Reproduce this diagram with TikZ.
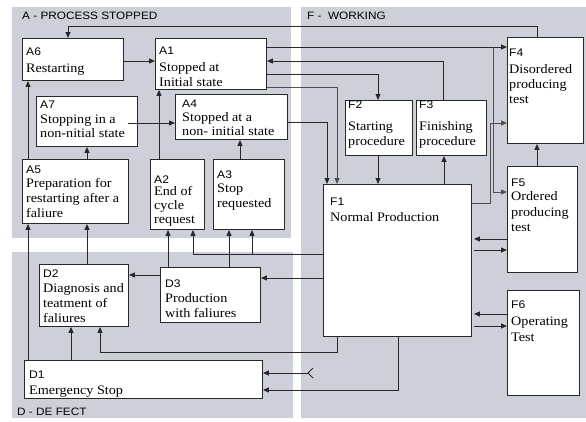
\documentclass[tikz,border=0pt]{standalone}
\usepackage{fontspec}
\setmainfont{Liberation Serif}[FakeStretch=1.09]
\newfontfamily\sansid{Liberation Sans}[FakeStretch=1.1]
\usetikzlibrary{arrows.meta}

\definecolor{zone}{RGB}{205,208,216}
\definecolor{ink}{RGB}{40,40,40}
\definecolor{wire}{RGB}{40,40,40}
\definecolor{wiregray}{RGB}{80,80,80}

% stacked text block: first line is the state code, the others use given baseline gaps
\newcommand\boxtxt[1]{\vtop{\lineskiplimit=-100pt\lineskip=0pt\relax #1}}
\newcommand\idl[1]{\hbox{\sansid\fontsize{11}{13}\selectfont #1}}
\newcommand\tline[2]{\baselineskip=#1pt\hbox{#2}}

\tikzset{
  box/.style={draw=ink, line width=0.9pt, fill=white, rectangle, inner sep=0pt, anchor=north west},
  txt/.style={anchor=base west, inner sep=0pt, font=\fontsize{13}{15}\selectfont},
  zlabel/.style={anchor=base west, inner sep=0pt, font=\sansid\fontsize{10.7}{12}\selectfont},
  wire/.style={draw=wire, line width=0.8pt},
  arr/.style={wire, -{Triangle[length=6pt,width=5pt]}},
}

\begin{document}
\begin{tikzpicture}[x=1pt, y=-1pt]
\useasboundingbox (0,0) rectangle (586,421);
\fill[white] (0,0) rectangle (586,421);

% zones
\fill[zone] (12,7) rectangle (291,238);
\fill[zone] (12,252) rectangle (293,418);
\fill[zone] (301,7) rectangle (586,418);
\node[zlabel] (zA) at (22,19) {A - PROCESS STOPPED};
\node[zlabel] (zF) at (307,19) {F -\ \ WORKING};
\node[zlabel] (zD) at (17,415) {D - DE FECT};

% state boxes
\node[box, minimum width=101pt, minimum height=42pt] (A6) at (22,38) {};
\node[box, minimum width=111pt, minimum height=51pt] (A1) at (155,38) {};
\node[box, minimum width=101pt, minimum height=50pt] (A7) at (36,96) {};
\node[box, minimum width=112pt, minimum height=45pt] (A4) at (175,94) {};
\node[box, minimum width=106pt, minimum height=64pt] (A5) at (22,159) {};
\node[box, minimum width=54pt,  minimum height=70pt] (A2) at (150,159) {};
\node[box, minimum width=71pt,  minimum height=70pt] (A3) at (213,159) {};
\node[box, minimum width=89pt,  minimum height=62pt] (D2) at (39,264) {};
\node[box, minimum width=100pt, minimum height=55pt] (D3) at (160,267) {};
\node[box, minimum width=238pt, minimum height=38pt] (D1) at (24,360) {};
\node[box, minimum width=67pt,  minimum height=55pt] (F2) at (345,100) {};
\node[box, minimum width=70pt,  minimum height=55pt] (F3) at (416,100) {};
\node[box, minimum width=76pt,  minimum height=106pt] (F4) at (507,37) {};
\node[box, minimum width=70pt,  minimum height=106pt] (F5) at (507,166) {};
\node[box, minimum width=148pt, minimum height=152pt] (F1) at (323,184) {};
\node[box, minimum width=72pt,  minimum height=105pt] (F6) at (507,290) {};

% connectors
\draw[arr] ([xshift=30pt]F4.north west) -- ++(0,-11) -| ([xshift=46pt]A6.north west);
\draw[arr] ([yshift=-23pt]A6.north east) coordinate (p) -- (p -| A1.west);
\draw[arr] ([yshift=-9pt]A1.north east) coordinate (p) -- (p -| F4.west);
\coordinate (j1) at (493,47);
\draw[arr, draw=wiregray] (j1) |- ([yshift=-26pt]F5.north west);
\draw[arr] ([xshift=27pt]F3.north west) |- ([yshift=-23pt]A1.north east);
\draw[arr] ([yshift=-36pt]A1.north east) -| ([xshift=33pt]F2.north west);
\draw[arr, draw=wiregray] ([yshift=-49pt]A1.north east) -| ([xshift=14pt]F1.north west);
\draw[arr] ([yshift=-28pt]A4.north east) -| ([xshift=4pt]F1.north west);
\draw[arr] ([xshift=-10pt,yshift=-27pt]A7.north east) coordinate (p) -- (p -| A4.west);

\draw[arr] ([xshift=6pt]A5.north west) coordinate (p) -- (p |- A6.south);
\draw[arr] ([xshift=4pt]D1.north west) coordinate (p) -- (p |- A5.south);
\draw[arr] ([xshift=65pt]A5.north west) coordinate (p) -- (p |- A7.south);
\draw[arr] ([xshift=48pt]D2.north west) coordinate (p) -- (p |- A5.south);
\draw[arr] ([xshift=9pt]A2.north west) coordinate (p) -- (p |- A1.south);
\draw[arr] ([xshift=27pt]A3.north west) coordinate (p) -- (p |- A4.south);
\draw[arr] ([xshift=8pt]D3.north west) coordinate (p) -- (p |- A2.south);
\draw[arr] ([xshift=69pt]D3.north west) coordinate (p) -- (p |- A3.south);

\draw[arr] ([yshift=-70pt]F1.north west) -| ([xshift=43pt]A2.south west);
\coordinate (j2) at (252,254);
\draw[arr] (j2) -- (j2 |- A3.south);
\draw[arr] ([yshift=-94pt]F1.north west) coordinate (p) -- (p -| D3.east);
\draw[arr] ([yshift=-8pt]D3.north west) coordinate (p) -- (p -| D2.east);
\draw[arr] ([xshift=14pt]F1.south west) -- ++(0,15) -| ([xshift=61pt]D2.south west);
\draw[arr] ([xshift=47pt]D1.north west) coordinate (p) -- (p |- D2.south);
\draw[arr] ([xshift=75pt]F1.south west) |- ([yshift=-30pt]D1.north east);
\coordinate (ext) at (308,373);
\draw[arr] (ext) -- (ext -| D1.east);
\draw[wire] ([shift={(5,-5)}]ext) -- (ext) -- ([shift={(5,5)}]ext);

\draw[arr] ([xshift=33pt]F2.south west) coordinate (p) -- (p |- F1.north);
\draw[arr] ([xshift=121pt]F1.north west) coordinate (p) -- (p |- F3.south);
\draw[arr, draw=wiregray] ([yshift=-19pt]F1.north east) -- ++(18,0) |- ([yshift=-86pt]F4.north west);
\draw[arr] ([xshift=30pt]F5.north west) coordinate (p) -- (p |- F4.south);
\draw[arr, shorten >=2pt] ([yshift=-73pt]F5.north west) coordinate (p) -- (p -| F1.east);
\draw[arr, shorten <=2pt] ([yshift=-66pt]F1.north east) coordinate (p) -- (p -| F5.west);
\draw[arr, shorten >=2pt] ([yshift=-24pt]F6.north west) coordinate (p) -- (p -| F1.east);
\draw[arr, shorten <=2pt] ([yshift=-142pt]F1.north east) coordinate (p) -- (p -| F6.west);

% texts
\node[txt] (A6t) at (26,55) {\boxtxt{\idl{A6}\tline{17}{Restarting}}};
\node[txt] (A1t) at (159,54) {\boxtxt{\idl{A1}\tline{17}{Stopped at}\tline{15}{Initial state}}};
\node[txt] (A7t) at (40,108) {\boxtxt{\idl{A7}\tline{15}{Stopping in a}\tline{14}{non-nitial state}}};
\node[txt] (A4t) at (182,107) {\boxtxt{\idl{A4}\tline{14}{Stopped at a}\tline{14}{non- initial state}}};
\node[txt] (A5t) at (26,173) {\boxtxt{\idl{A5}\tline{14}{Preparation for}\tline{15}{restarting after a}\tline{15}{faliure}}};
\node[txt] (A2t) at (154,183) {\boxtxt{\idl{A2}\tline{12}{End of}\tline{14}{cycle}\tline{14}{request}}};
\node[txt] (A3t) at (217,178) {\boxtxt{\idl{A3}\tline{14}{Stop}\tline{15}{requested}}};
\node[txt] (D2t) at (43,277) {\boxtxt{\idl{D2}\tline{15}{Diagnosis and}\tline{15}{teatment of}\tline{15}{faliures}}};
\node[txt] (D3t) at (165,287) {\boxtxt{\idl{D3}\tline{15}{Production}\tline{15}{with faliures}}};
\node[txt] (D1t) at (29,378) {\boxtxt{\idl{D1}\tline{16}{Emergency Stop}}};
\node[txt] (F2t) at (348,108) {\boxtxt{\idl{F2}\tline{22}{Starting}\tline{15}{procedure}}};
\node[txt] (F3t) at (419,108) {\boxtxt{\idl{F3}\tline{22}{Finishing}\tline{15}{procedure}}};
\node[txt] (F4t) at (509,56) {\boxtxt{\idl{F4}\tline{17}{Disordered}\tline{15}{producing}\tline{15}{test}}};
\node[txt] (F5t) at (511,186) {\boxtxt{\idl{F5}\tline{14}{Ordered}\tline{16}{producing}\tline{15}{test}}};
\node[txt] (F1t) at (330,205) {\boxtxt{\idl{F1}\tline{16}{Normal Production}}};
\node[txt] (F6t) at (511,308) {\boxtxt{\idl{F6}\tline{17}{Operating}\tline{16}{Test}}};
\end{tikzpicture}
\end{document}
